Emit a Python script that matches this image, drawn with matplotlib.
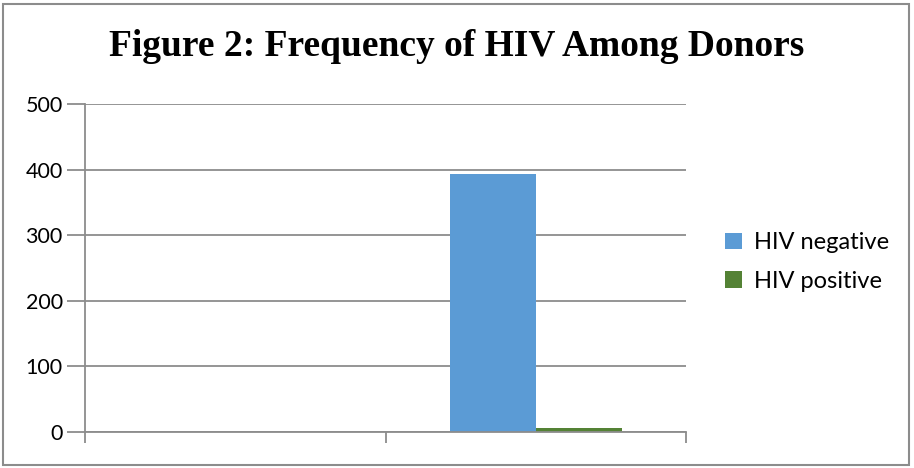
import matplotlib.pyplot as plt
from matplotlib.patches import Rectangle
import numpy as np

categories = ['', '']
hiv_negative = [0, 393]
hiv_positive = [0, 6]

fig = plt.figure(figsize=(9.14, 4.68), dpi=100)
ax = fig.add_axes([85/914, 1-432/468, (686-85)/914, (432-104)/468])

x = np.arange(len(categories))
w = 0.2857
ax.bar(x - w/2, hiv_negative, w, color='#5b9bd5', linewidth=0, label='HIV negative')
ax.bar(x + w/2, hiv_positive, w, color='#548235', linewidth=0, label='HIV positive')

ax.set_xlim(-0.5, 1.5)
ax.set_ylim(0, 500)
ax.set_yticks(range(0, 501, 100))
ax.set_xticks([-0.5, 0.5, 1.5])
ax.set_xticklabels([])
ax.yaxis.grid(True, color='#8c8c8c', linewidth=1.3)
ax.set_axisbelow(True)
for s in ['top', 'right']:
    ax.spines[s].set_visible(False)
ax.spines['left'].set_color('#8c8c8c')
ax.spines['bottom'].set_color('#8c8c8c')
ax.spines['left'].set_linewidth(1.3)
ax.spines['bottom'].set_linewidth(1.3)
ax.tick_params(axis='y', length=13, width=1.3, color='#8c8c8c', labelsize=15.5, pad=3)
ax.tick_params(axis='x', length=8, width=1.3, color='#8c8c8c')
for t in ax.get_yticklabels():
    t.set_fontfamily('Lato')

fig.text(0.5, 1-46/468, 'Figure 2: Frequency of HIV Among Donors', ha='center', va='center',
         fontsize=27, fontweight='bold', fontfamily='Liberation Serif')

leg = fig.legend(loc='center left', bbox_to_anchor=(704/914, 1-262/468), frameon=False,
                 prop={'family': 'Lato', 'size': 17}, handlelength=0.7, handleheight=0.7,
                 handletextpad=0.5, labelspacing=0.75)

fig.patches.append(Rectangle((3/914, 3/468), 906/914, 461/468, transform=fig.transFigure,
                             fill=False, edgecolor='#8c8c8c', linewidth=1.5))

fig.savefig('out.png', dpi=100)
